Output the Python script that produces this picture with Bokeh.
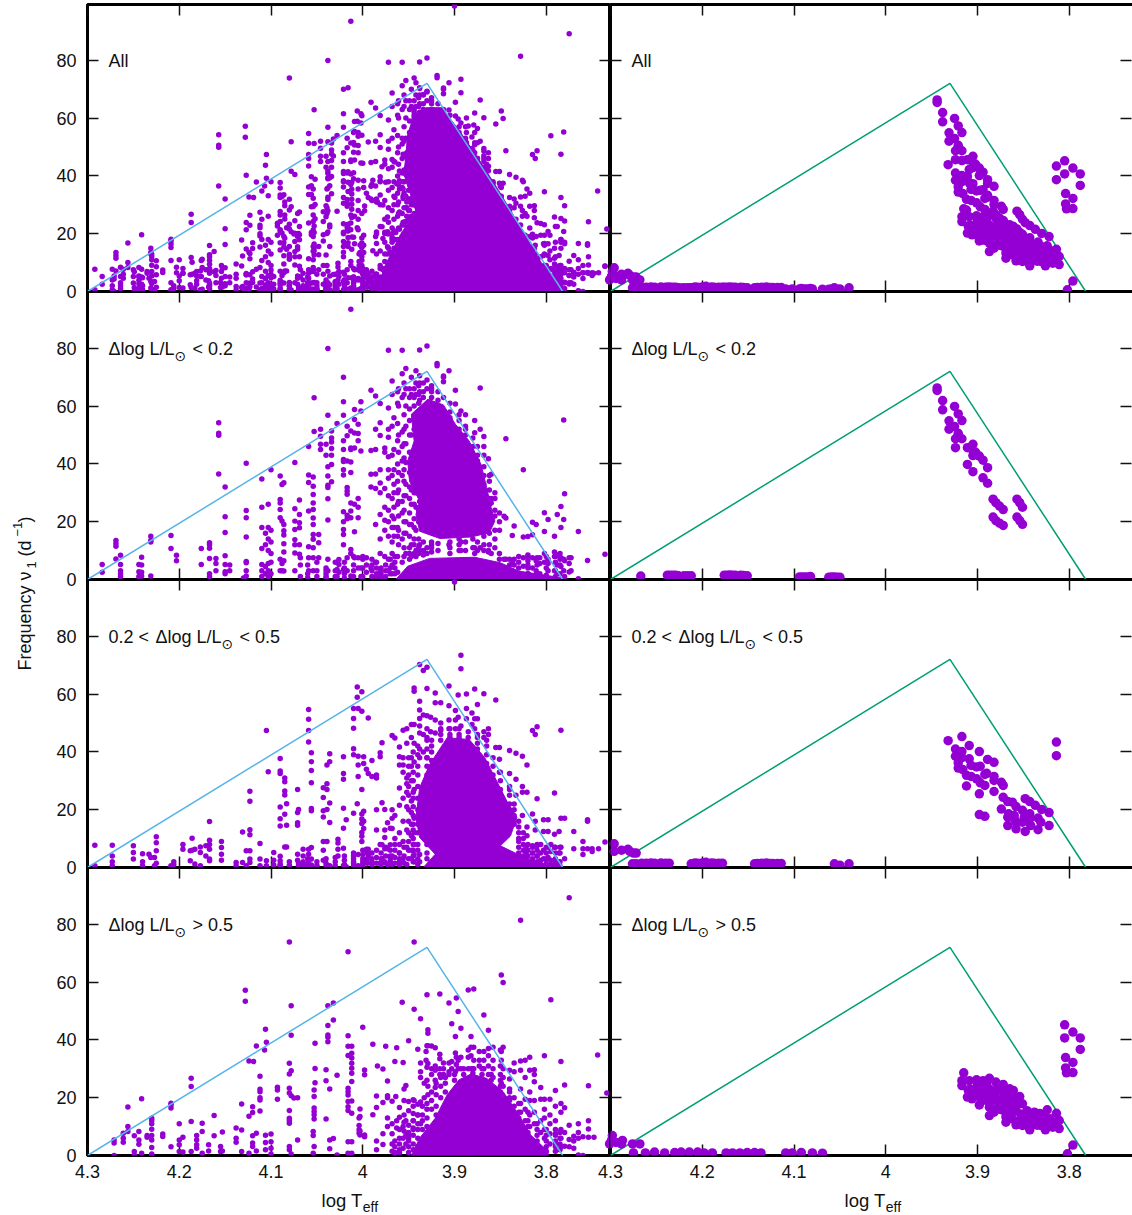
from math import pi
from bokeh.plotting import figure
from bokeh.layouts import row, column
from bokeh.core.properties import value
from bokeh.models import LinearAxis, FixedTicker, Label, Range1d
from bokeh.embed import file_html
from bokeh.resources import INLINE

X_TICKS = [4.3, 4.2, 4.1, 4.0, 3.9, 3.8]
X_TICK_LABELS = ["4.3", "4.2", "4.1", "4", "3.9", "3.8"]
Y_TICKS = [0, 20, 40, 60, 80]
IS_T = [4.3, 3.93, 3.782]
IS_NU = [0, 72, 0]
PURPLE = "#9400D3"

# --- left column: dense saturated clouds, as read outlines (log Teff, frequency)
low_core_T = [3.929,3.912,3.899,3.884,3.871,3.865,3.860,3.856,3.862,3.882,3.916,3.938,3.942,3.938,3.949,3.951,3.944,3.947]
low_core_nu = [62.4,60.4,53.7,47.9,39.8,31.8,24.8,20.2,16.2,14.7,14.2,16.7,22.5,27.1,34,41,47.9,57.2]
low_band_T = [3.964,3.951,3.927,3.878,3.850,3.830,3.783,3.783]
low_band_nu = [0,4.6,7.3,7.7,5.8,2.9,0.6,0]
mid_core_T = [3.908,3.884,3.867,3.854,3.843,3.832,3.839,3.850,3.824,3.796,3.796,3.934,3.921,3.938,3.942,3.938,3.927]
mid_core_nu = [44.9,44.3,38,29.9,23,17.3,10.9,7.5,3.5,0.6,0,0,4.6,10.4,17.3,27.6,35.7]
high_core_T = [3.882,3.865,3.847,3.830,3.817,3.798,3.798,3.947,3.938,3.921,3.908,3.895]
high_core_nu = [28.2,26.7,22.1,14.1,7.1,1.4,0,0,6,12.9,21,26.2]
all_core_T = [3.931,3.914,3.895,3.875,3.852,3.834,3.817,3.804,3.783,3.783,3.983,3.977,3.959,3.942,3.955,3.951,3.944]
all_core_nu = [63.6,63.6,55.8,46.5,35,25.4,16.2,9.2,0.6,0,0,8,19.7,27.7,40.5,54.3,61.3]

# --- left column: individual stars, grouped by log Teff: (log Teff, [frequencies])
low_cols = [
(4.284,[5.2,2.5]),(4.269,[13.5,12.5,11.5,7.1]),(4.264,[8.4,5.2,3,2,1]),(4.244,[5.2,2.7,1]),(4.241,[7.7,5,2.5,1.2]),
(4.231,[15,13.5,13,1.2]),(4.209,[15.2,10.7]),(4.203,[8.4,6.5]),(4.176,[10.7,5.2]),(4.167,[12.7,12,10.8,7.3,2,1]),
(4.160,[7.3,5.5,3]),(4.157,[54.2,50.6,49.9,36.5]),(4.150,[32,21.7,16.3,8.2,5.2,2.7,2]),(4.145,[5,3]),
(4.127,[40.2,23.9,21.4,14.7,6.2,5.8,3,1.2]),(4.110,[34.8,25,18,10.7,5.2,3,1]),(4.103,[26,18,14,10,5.5,3,1]),
(4.100,[38,17,13,9,6,2]),(4.106,[16,12,4.5,2]),(4.090,[35.8,27.7,26.5,24.2,21.4,7,3]),(4.088,[32.9,20.2,5.5,3]),
(4.086,[33.5,19,16.9,15.4,12.4,9.5,6.5,2.9]),(4.074,[40.5,24.5,20.2,17.3,13.8,12,9.2,3]),(4.068,[7.5,5,1]),
(4.069,[27.5,22.5,19.6,17.9,12,8.7]),(4.059,[46,36.2,33.6,23.7,11.3,7.5,3]),(4.054,[35.5,32.3,29.4,26.5,24.2,21.3,19,15.6,13.9,11,7.5,3]),
(4.053,[62.9,51.2]),(4.048,[15.6,12.7,7.5]),(4.046,[52,49.6,46.8,45]),(4.040,[46.8,43,3,1]),(4.034,[51.4,49,47.6,45.3,43,39.8,33.8]),
(4.038,[79.9,56.8,39,35.8,32.6,31.8,27.9,20.6,7,3]),(4.026,[6.9,5.2,2.5]),(4.021,[70,61.5,56.8,48,45,41.5,40.8,38,36.2,23.4,20,17.3,15.6,12,3.5]),
(4.028,[54,3.5,1]),(4.017,[53,49.7,41,31.8,30.6,29.5,22.2,21,7.5,3]),(4.013,[51.4,45.5,45,40.7,37,26.5,23.7,21.4,10.4,9,1.2]),
(4.009,[58.8,55.4,50.7,45.5,26,16.5,7.5]),(4.005,[53.7,50.5,48,28,25,21.4,7.5,4]),(4.002,[61.5,58.3,44.5,4,1]),(3.996,[7.5,5,2.5]),
(3.991,[65.5,44.6,36.4,32,4]),(3.986,[63.5,52,45,36.5,31.5,19,6]),(3.981,[60.9,54.2,49.8,38,33.4,30,22.5,14,9,3]),(3.976,[45.5,44,31.5,25,20.5,17,8]),
(3.972,[79.3,59.3,52,49.2,42.5,38,35,29,24,20,15,7,3]),(3.968,[68.7,64,53,43,36,28,22,18,13,9,5,2]),
(3.962,[65,61,54,48,40,34,30,26,18,15,8,2.5]),(3.957,[79.3,71.2,63,51,46,41,36,27,23,14,6,1]),(3.953,[73,66,60,53,47,40.5,33,29,20,16,9]),
(3.947,[70,64,50,44,36,31,26,19,12,8]),(3.942,[72.2,68,64,45,30,25,17,10,8]),(3.938,[79.4,70.5,68,65,62,30,27,12,10]),(3.930,[80.8,69,66,28,11,9]),
(3.925,[67,65,12]),(3.919,[74.7,74]),(3.912,[70.4,70,68.4,63]),(3.906,[72.2,12]),(3.899,[65.5,60.7]),(3.893,[58.3,13,10]),(3.888,[53,57]),
(3.878,[50.8,55,11,9]),(3.872,[66.3,52,11]),(3.868,[49.5,46,43,10]),(3.863,[41.8,9.5,10]),(3.860,[36.4,28,26.5,9]),(3.846,[21.9,7,4]),(3.844,[48.7,21.3,7]),
(3.835,[18.5,7,5]),(3.837,[15.2,5.5,3]),(3.825,[38,14.7,7.5,4.6]),(3.820,[14.9,8,5,2]),(3.815,[15.5,19.8,7.5,4]),(3.811,[19,6.5,3]),(3.807,[7.5,5.5,2]),
(3.802,[23.1,16.6,9,6]),(3.798,[20.8,7,5.5,3]),(3.791,[15,9.5,8,3]),(3.788,[22.5,8.5,5,2]),(3.784,[25.3,18,7.5,4.5]),(3.781,[55.2,20.8,7,3]),
(3.780,[29.7,6.5,1]),(3.775,[7.5,5.5,2.6]),(3.773,[7.5,3]),(3.765,[16.6,.3]),(3.755,[6.6]),(3.736,[8.7]),(4.013,[93.5]),
# stars crowding the edges of the saturated clouds
(3.966,[56,45,38,33,30,25,21,18,15]),(3.961,[66,60,50,44,37,31,27,22,17,12]),(3.955,[68,64,57,52,47,42,38,34,29,24,20,16,11,8]),
(3.949,[66,63,59,55,50,44,37,32,28,23,19,15,11,9,7]),(3.944,[66,63,60,56,52,38,30,26,21,18,14,12,9]),(3.939,[67,64,61,36,31,24,20,14,11,9]),
(3.934,[68,65,63,30,28,13,10,8.5]),(3.925,[66,63,13,11,9.5]),(3.918,[65,62,12.5,10]),(3.905,[61,58,56,13,11,9]),(3.895,[57,55,52,49,14,12,10]),
(3.888,[52,50,48,45,13,10]),(3.880,[49,46,43,40,14,11]),(3.875,[46,43,41,38,35,13,10]),(3.868,[39,36,33,30,27,15,12]),(3.862,[36,34,31,28,26,22,19,16,12]),
(3.856,[30,28,24,22,17,14,11]),(3.851,[23,20,17,9,7]),(3.84,[7,5,3,1.5]),(3.83,[8,6,4,2]),(3.82,[8.5,6.5,4,2]),(3.81,[7.5,5,2]),(3.80,[8,6,4,1.5]),(3.79,[8,6,3,1]),(3.785,[9,7,5,2]),
(4.13,[.5]),(3.99,[7,5,3,1]),(3.985,[6,4,2,1]),(3.975,[5,3,1]),(3.97,[7,4,2]),(3.965,[8,6,4,2]),(3.98,[4,2,.8]),(4.0,[8,7,4,1]),(4.01,[8,5,3,1]),(4.02,[6,4,2,.5]),(4.03,[6,3,1]),(4.04,[4,2,.5]),(4.05,[6,3,1]),(4.06,[5,2,.6]),
]
mid_cols = [
(3.9,[98.8]),
(4.292,[7.7,.6]),(4.273,[7.7,4,2,.6]),(4.250,[7.5,5.2,2.9]),(4.240,[4.8,2,.6]),(4.233,[4.6]),(4.231,[3.5]),(4.227,[3.5,.6]),(4.225,[10.6,8.6,5.8,1.5]),
(4.209,[.6,.3]),(4.206,[2,1]),(4.196,[8,6.3]),(4.188,[5.8,2.3]),(4.186,[10.1,6]),(4.183,[6.3,1.2]),(4.177,[7.1,5.2,.6]),(4.171,[7.5,4]),(4.167,[15.9,9.4,8,6.3,2.9,2.3]),
(4.154,[9,6.9,4.6,2.5]),(4.138,[1.7,.6]),(4.131,[12.3,1.7]),(4.127,[.6,5.8]),(4.123,[26.4,22.9,13.1,11.3,5.8,2.9,1.7]),(4.112,[8.3,2.9,.6]),
(4.105,[47.4,2.3,.6]),(4.103,[33.1]),(4.097,[5.2,2.5,.9]),(4.090,[37.7,33.4,32.5,20.9,16.9,14.4,3.9,2.3,.6]),(4.085,[31,29.7,26.5,25.1,18.4,7.1]),(4.083,[22.1,14.6,7.1]),
(4.071,[27,19,15.5,14.6,4.6,2.5]),(4.070,[20.1,.6]),(4.065,[6.3,4,2,.6]),(4.059,[54.7,51.3,47.4,43.4,6.3,4.6,2.3]),(4.056,[39.7,36.6,33.6,29.3,20.4,19.6,6.9,2.9,.9]),
(4.043,[27.6,24.2,19.6,17.5,9,6,2.5]),(4.039,[29,27,20.1,35.5,9,.6]),(4.036,[22.3,15.6,36.6,39.4,.6]),(4.027,[9.8,8.5,6.3,4]),
(4.021,[38.3,32.5,30.5,20.5,13.6,6.7,.6]),(4.018,[16.5,.3]),(4.006,[62.5,58.9,22.1]),(4.001,[60.8,54.1,27,18.5,16.8,15.2,12.1,10.8,9]),
(4.010,[55,51.6,48.2,41.1,39,18.8,5,2]),(4.005,[55,38.5,35.5,31.5,4.5,.6]),(3.999,[38.3,36,19.5,16,13.5]),(3.996,[34,2.5,6.3]),(3.994,[51.7,32.5,6.3,4]),
(3.990,[31.5,37,3]),(3.985,[31,32,20,13]),(3.981,[39.7,38.3,8,1.5]),(3.979,[43.2,22.4,7.9,3]),(3.976,[20.1,13,10.4,6.5,2]),(3.973,[15.5,6.5,1]),(3.970,[13.6,7.9,3]),
(3.968,[45.7,17,20,13.5,4,1]),(3.965,[44.8,18,10,6]),(3.960,[41.7,38.3,35.5,27.5,21.5,12,5,2]),(3.956,[47.5,38,35.5,33,24,16,9,3]),(3.952,[48,43,31,29,26,21,13,7,1]),
(3.947,[49.5,45,38,35,30,23,19,15,11,6,3]),(3.944,[62.1,61,49.5,43,36.5,27,17,12,8,4.5,2]),(3.938,[70.2,57.5,54.5,51.6,49,46.5,41,38,4.5,2]),
(3.934,[68.2,52.8,46,40]),(3.930,[69.3,61.9,52.5,48,45,38]),(3.926,[52,47]),(3.921,[60.4,57,51,46.5]),(3.915,[57,50,47.5]),(3.906,[62.8,56,51,48]),
(3.899,[54.3,51,48]),(3.896,[59.7,52]),(3.893,[68.8,73.4,49]),(3.887,[60,55,51.5]),(3.881,[53.5,49.5]),(3.878,[61.8,51.5,48]),(3.875,[56.4,51.5,46]),(3.868,[60.1,47,45]),
(3.863,[48,46]),(3.855,[58,41.5]),(3.851,[41.5,37.5,33]),(3.840,[40.5,32.5,27]),(3.833,[39.5,30.5,25]),(3.826,[38.5,28,26,18]),(3.821,[35.5,26,14,11]),(3.815,[47.4,18.5,7.5,5]),
(3.812,[46,16,13]),(3.810,[48.7,23.8,7.5,4]),(3.803,[16.5,12.5,6,3]),(3.798,[16.5,12.5,7,3.5]),(3.791,[25.8,11.5,7]),(3.786,[12.5,5,2]),(3.784,[47.5,17,7]),
(3.780,[17,3]),(3.770,[12.5,6.5]),(3.760,[9,6.5,4.5]),(3.755,[16.5,16,6.5]),(3.750,[6.5,5.5]),(3.743,[6.5]),(3.736,[8.8]),
# stars crowding the edges of the saturated cloud
(3.945,[40,33,30,26,24,21,18,15,13,10,8,6,4,2]),(3.95,[38,35,32,28,25,20,16,12,9,6,3]),(3.94,[42,39,35,32,28,24,20,15,12,8,6,3,1]),(3.93,[44,41,38,35,32,8,5,3]),
(3.925,[44,42,40,37]),(3.915,[48,46,44]),(3.905,[48,46,45]),(3.895,[48,46,45]),(3.885,[47,45]),(3.875,[45,43,41]),(3.865,[44,42,39,36]),(3.858,[38,35,32,30]),
(3.85,[33,30,27,25]),(3.84,[28,25,22,20]),(3.835,[22,20,18,15]),(3.83,[16,14,12,10]),(3.825,[12,10,8,6,4]),(3.82,[8,6,4,2]),(3.81,[8,6,4,2,1]),(3.80,[7,5,3,1.5]),
(3.79,[7,5,3,.7]),(3.785,[7,5,2,.5]),(3.96,[8,5,3,1]),(3.97,[6,4,2]),(3.98,[5,3,1]),(3.99,[5,2,1]),(4.0,[6,3,.8]),
# low-frequency crowd along the axis
(4.09,[1.2,.5]),(4.08,[2,.8]),(4.07,[1.5,.5]),(4.06,[3,1.2,.5]),(4.05,[2,.8]),(4.04,[3,1.5,.5]),(4.03,[3.5,2,.8]),(4.02,[4,2.5,1]),(4.01,[4,3,1.5,.5]),(4.0,[4.5,2,1]),
(3.995,[5,3,1.5]),(3.985,[6,3.5,1.5]),(3.975,[7,4,1.5]),(3.965,[8,3.5,1.5]),(3.955,[7,4,1.5]),
(3.83,[9,7,5,3]),(3.822,[7,5,3,1.5]),(3.815,[7,5,3,1]),(3.806,[8,5,2.5,1]),(3.795,[8,5.5,2.5,1]),(3.79,[2,1]),
]
high_cols = [
(4.271,[5.4,4.3,0]),(4.261,[7.7,6,4.6]),(4.256,[16.8,10,8.3]),(4.249,[6.8,1.4,.2]),(4.244,[8.3,5.4,3.9]),(4.241,[19.6,.8]),(4.235,[6.9,6.3]),(4.230,[12.9,12.1,11,9.1,6.9,5.4,2.8,.2,.5]),
(4.218,[7.4,6.6]),(4.209,[18.1,17.5,16.4,3]),(4.200,[11,5.4,3.7,1.4]),(4.196,[6.3,1.2]),(4.187,[26.7,23.9,11.8,1.4]),(4.181,[6.9,5.4,3.7,2.5]),(4.175,[11.2,8.3,.8]),
(4.168,[3.7,1.6]),(4.162,[13.8,6.8]),(4.155,[3.1,1.4]),(4.153,[8.1,1.6]),(4.138,[9.5,6,4.6]),(4.132,[17.8,8.8,1.4]),(4.128,[57.2,53.4]),(4.124,[32.7,13.6,.8]),(4.120,[16.9,14.9,6.8,4.3,3.1]),
(4.119,[32.5]),(4.116,[37.9,7.7,1.6]),(4.112,[27.4,22.9,22.1,20,19.2,15.4]),(4.106,[43.7,7,4.5,2]),(4.105,[39.2]),(4.107,[36.5]),(4.100,[7.4,4.8,2.5,.5]),(4.093,[23.6,22.7,19.5]),
(4.080,[73.9,31.9,28.2,23.3,21.6,15.6,12.9,12,11.2,3.1,2]),(4.078,[51.8,41.6,29.3,20.7,.5]),(4.075,[19.9]),(4.071,[20,5.4]),(4.054,[8.3,6.9,.8]),(4.053,[22.7,20.4,16.4,15.2,14.1,12.6,3.1]),
(4.052,[38.8,30.1,25.2]),(4.040,[29.7,25.9,12.6]),(4.036,[23,5.4,2.3]),(4.032,[52.8,46.9,5.9]),(4.038,[51.8,45,41.7,40.9,39.4]),(4.028,[27.8,.2]),(4.016,[70.5,41.4,37.8,34.6,23.3,22.1,20.9,18.7,16.9,15.6,4.8,.8]),
(4.012,[35.4,33.7,31.9,30.2,28.5,25.6,37.8,18.9,14.6,4.8,.8]),(4.000,[44.4]),(3.998,[29.6,27.9,7.1,6.5]),(4.003,[16.1,13.5,7.1,8.5]),(4.004,[13,10.4,8.9,7.8]),
(3.989,[38.5,14.1]),(3.985,[20.6,16.6,5,2]),(3.984,[31]),(3.978,[29.9,18.3,7.5,3.8]),(3.975,[37.8]),(3.973,[25.8,20.7,20,13,10]),(3.968,[18.8,11,7.5,4,1.5]),(3.965,[32.5,5,1]),(3.963,[37.3,9.5,12]),
(3.964,[20.4]),(3.960,[16.6,13.2,9]),(3.956,[32.2,10,6,2.5]),(3.955,[23,19,14,11.5,8.5]),(3.953,[24.2,12,7,4]),(3.950,[39.7,18.7,15.5,10.5,7]),(3.957,[53]),(3.945,[19.3,17,14.5,12,9.5]),
(3.944,[73.9,50.6,19]),(3.940,[36.8,17.7,14]),(3.937,[47.3,32,29,27,18.5,11]),(3.933,[25,20]),(3.931,[36,33]),(3.930,[55.6,38,30.5,26]),(3.929,[43.5,42.3,38,31.8,24,21]),
(3.925,[37.9,30,28]),(3.921,[37.3,31,29.5,26,23.5]),(3.916,[55.9,35,33.5,30,28]),(3.912,[32,30,28]),(3.906,[52.8,32,29,28]),(3.903,[45.6,32.5,30]),(3.898,[54.5,34,31.5]),
(3.899,[41.2,35.5,29]),(3.896,[49.8,33,30]),(3.893,[44,34,30]),(3.885,[57.3,36.5,34,30]),(3.882,[41.2,37.5,34.5,30]),(3.879,[57.6,37.5,33,30]),(3.873,[36,33,31]),(3.868,[48.6,36,33,30]),
(3.863,[43.3,37,34.5,31,28]),(3.858,[37.5,33,30,27]),(3.850,[36.5,31,28]),(3.849,[62.5,36,33,25]),(3.847,[59.9,37.5,30,27,24]),(3.840,[29.5,26.5,23,20]),(3.835,[32,29,20,17,14]),(3.828,[81.4,32.7,29.5,23,18,15]),
(3.823,[33,27,19.5,16,12]),(3.818,[34,29.5,22,19,14,10]),(3.813,[29.7,28,25.5,19,15,11]),(3.806,[23.5,19.5,12,8]),(3.802,[34.5,19.5,16,13,9,6]),(3.796,[19.5,14,11,7.5,4]),(3.795,[53.9]),(3.790,[22.5,17,12,7.5,4]),
(3.784,[32.5,18,15,9,6,3]),(3.780,[24.4,16.5,8,3.2]),(3.775,[89.2,10.5,5.5,3]),(3.770,[6.7,5,2.5]),(3.765,[11,8,6,.2]),(3.760,[6.5,0]),(3.754,[24.1,12,9.2,6.3]),(3.748,[6.3]),(3.744,[34.8]),(3.734,[21.6]),
# stars crowding the edges of the saturated cloud
(3.95,[5,3,1,6,8]),(3.96,[6,4,2,1]),(3.965,[3,.8]),(3.945,[12,9,7,4,2]),(3.94,[14,11,9,6,3]),(3.935,[17,14,12,9]),(3.93,[18,16,13,10]),(3.925,[22,19,16]),(3.92,[25,21,17,14]),(3.915,[27,24,20]),
(3.91,[27,25,22]),(3.90,[28,26]),(3.89,[30,28]),(3.88,[30,28.5]),(3.87,[30,28]),(3.86,[28,26]),(3.85,[26,24,22]),(3.84,[22,19,16]),(3.83,[18,15,13]),(3.82,[15,12,10,8]),(3.81,[11,9,7,5]),
(3.80,[9,7,5,3,1.5]),(3.79,[9,7,5,3,1.5]),(3.785,[8,6,4,2]),
]

# --- right column: the selected stars (log Teff, frequency)
rlow_T = [3.944,3.944,3.938,3.938,3.925,3.921,3.917,3.931,3.925,3.931,3.921,3.917,3.924,3.924,3.911,3.905,3.905,3.902,3.905,3.898,3.894,3.889,3.911,3.905,3.894,3.889,
          3.883,3.880,3.876,3.872,3.857,3.854,3.851,3.883,3.880,3.876,3.872,3.857,3.854,3.851,
          4.267,4.238,4.235,4.232,4.229,4.226,4.220,4.216,4.212,4.176,4.173,4.170,4.167,4.164,4.158,4.155,4.151,4.094,4.091,4.088,4.085,4.082,4.062,4.059,4.056,4.053,4.050]
rlow_nu = [66.3,65.4,61.9,58.7,59.9,57.3,55,54.9,52.9,52,50.6,48.7,48.7,45.6,45.6,46.8,44.6,44,42.9,42.7,41.3,38.7,39.8,37.3,35.2,33.3,
           27.8,26.6,25.4,24.2,27.8,26.6,25,21.6,20.4,19.5,18.7,21.6,20.4,19.1,
           1.2,1.5,1.5,1.5,1.5,1.3,1.3,1.3,1.3,1.5,1.5,1.6,1.5,1.5,1.5,1.4,1.3,.9,.9,.9,.9,1,.8,.9,.9,.8,.8]
rmid_T = [3.932,3.917,3.909,3.924,3.917,3.924,3.917,3.909,3.898,3.889,3.882,3.921,3.921,3.916,3.907,3.901,3.897,3.912,3.907,3.901,3.897,3.892,3.890,3.892,3.882,3.882,3.874,3.872,3.912,3.898,3.882,3.872,3.867,3.862,3.858,3.874,
          3.848,3.843,3.837,3.830,3.822,3.851,3.843,3.866,3.867,3.860,3.860,3.858,3.849,3.851,3.843,3.834,3.831,3.842,3.822,3.867,3.858,3.848,3.834,3.898,3.892,3.814,3.814,
          4.296,4.296,4.288,4.281,4.279,4.272,4.275,4.276,4.272,4.266,4.261,4.256,4.252,4.245,4.24,4.236,4.212,4.208,4.205,4.2,4.196,4.19,4.187,4.182,4.178,4.143,4.14,4.138,4.135,4.130,4.126,4.123,4.118,4.114,4.056,4.050,4.040]
rmid_nu = [43.9,45.3,42.2,41,40.1,38.5,38,37.6,40.1,37.4,36.4,36.2,34.4,33.9,35.3,34.8,35,31.9,31.5,30.7,29.3,28.4,32.6,32.2,31.5,30.1,29.5,28.4,28.2,25.5,26.3,24.3,22.8,22.6,21.1,20.2,
           23.8,22.8,21.5,20.1,19,19.8,18.6,18.6,17.4,18,16.9,15.7,17.4,15.7,16.9,17.1,15.7,14.5,14.5,14.5,13.4,12.5,13.1,18.3,17.7,43.4,38.7,
           8.2,5.6,6,6.3,5.6,5,5,1.3,1.3,1.5,1.5,1.6,1.5,1.6,1.5,1.5,1.3,1.6,1.5,1.6,1.8,1.6,1.5,1.5,1.5,1.3,1.4,1.3,1.5,1.6,1.4,1.4,1.4,1.4,1.3,.8,1.3]
rhigh_T = [3.805,3.796,3.805,3.788,3.788,3.804,3.796,3.804,3.803,3.796,3.796,3.802,
           3.915,3.917,3.917,3.909,3.901,3.894,3.887,3.880,3.872,3.865,3.861,3.854,3.851,3.911,3.906,3.898,3.908,3.901,3.894,3.887,3.880,3.872,3.901,3.894,3.887,3.880,3.872,3.865,3.858,
           3.887,3.887,3.880,3.872,3.865,3.858,3.853,3.869,3.869,3.862,3.858,3.851,3.844,3.843,3.838,3.844,3.836,3.831,3.824,3.831,3.826,3.818,3.811,3.814,3.811,3.821,3.851,
           3.90,3.895,3.89,3.885,3.875,3.868,3.86,3.856,3.862,3.87,3.876,3.884,3.89,3.896,3.904,3.91,3.862,3.848,3.84,3.835,3.828,3.822,3.816,3.842,3.855,3.865,3.876,3.882,3.846,3.84,3.832,3.826,
           4.299,4.298,4.301,4.294,4.287,4.288,4.276,4.268,4.275,4.262,4.252,4.241,4.230,4.223,4.214,4.205,4.198,4.189,4.174,4.167,4.159,4.151,4.143,4.136,4.109,4.102,4.092,4.080,4.069]
rhigh_nu = [45.2,42.7,40.7,40.7,36.7,33.9,32.2,30.3,28.6,28.7,3.6,.6,
            28.6,25.9,24.2,25.9,26.2,25.9,26.7,25.4,24.6,23.1,22.5,20.4,17.9,20.2,19.6,17.5,23,23,23,23,22.5,21.9,20.8,20.8,20.8,20,19.6,19.6,19,
            16.7,13.8,16.1,15.6,15.6,15.6,14.4,13.3,11.5,12.7,10.6,12.1,9.8,8.9,15,13.3,12.7,13.3,15.8,10.4,8.9,9.8,9.3,14.6,12.1,12.7,10.4,
            24.5,24,25,22,23,22,20.5,18,18,17.5,18,19,19,19,22,22.5,15,13,12,10.5,11.5,10.5,11.5,11,12,13,16,15,15.5,14,14.5,13,
            5.2,6.9,4,4.5,5.2,4,4,4,.9,.9,1.2,.9,1,1.2,1.2,1.2,.9,.9,.9,.9,.9,1,1,.9,.9,.9,1,.9,.8]

ROW_PREFIX = [None, None, "0.2 <", None]
ROW_LABELS = ["All", "\u0394log L/L", "\u0394log L/L", "\u0394log L/L"]
ROW_SUFFIX = [None, "< 0.2", "< 0.5", "> 0.5"]

def expand(cols):
    xs, ys = [], []
    for x, vals in cols:
        for y in vals:
            xs.append(x); ys.append(y)
    return xs, ys

low_T, low_nu = expand(low_cols)
mid_T, mid_nu = expand(mid_cols)
high_T, high_nu = expand(high_cols)

left_pts = [(low_T+mid_T+high_T, low_nu+mid_nu+high_nu), (low_T, low_nu), (mid_T, mid_nu), (high_T, high_nu)]
right_pts = [(rlow_T+rmid_T+rhigh_T, rlow_nu+rmid_nu+rhigh_nu), (rlow_T, rlow_nu), (rmid_T, rmid_nu), (rhigh_T, rhigh_nu)]
left_hulls = [[(all_core_T, all_core_nu), (low_band_T, low_band_nu)],
              [(low_core_T, low_core_nu), (low_band_T, low_band_nu)],
              [(mid_core_T, mid_core_nu)],
              [(high_core_T, high_core_nu)]]

FONT = "Liberation Sans"
TICK_FS = "18px"
INK = "#111111"
PX_X = 917.5
PX_Y = 2.89
FRAME_H = [287, 288, 288, 288]
LEFT_W = 523
RIGHT_W = 525   # runs just past the window, as the reference's right edge does
STRIP_H = 27
YL_W = 40
LEFT_BORDER = 47

def add_axes(p, r, c, xmax, ymax):
    def style(ax, ticks):
        ax.ticker = FixedTicker(ticks=ticks)
        ax.minor_tick_line_color = None
        ax.axis_line_color = None
        ax.major_tick_in = 11
        ax.major_tick_out = 0
        ax.major_tick_line_color = INK
        ax.major_tick_line_width = 1.5
        ax.major_label_text_font = FONT
        ax.major_label_text_font_size = TICK_FS
        ax.major_label_text_color = INK
        ax.level = "underlay"
    blank_x = {float(t): "" for t in X_TICKS}
    blank_y = {int(t): "" for t in Y_TICKS}

    # tick-only axes, drawn beneath the stars
    b = LinearAxis(); style(b, X_TICKS); b.major_label_overrides = blank_x; b.fixed_location = 0
    p.add_layout(b, "below")
    t = LinearAxis(); style(t, X_TICKS); t.major_label_overrides = blank_x; t.fixed_location = ymax
    p.add_layout(t, "above")
    l = LinearAxis(); style(l, Y_TICKS); l.major_label_overrides = blank_y; l.fixed_location = 4.3
    p.add_layout(l, "left")
    ri = LinearAxis(); style(ri, Y_TICKS); ri.major_label_overrides = blank_y
    ri.fixed_location = xmax if c == 0 else 3.7322
    p.add_layout(ri, "right")

    # label-carrying axes at the outer edges
    if r == 3:
        xl = LinearAxis(); style(xl, X_TICKS)
        xl.level = "guide"
        xl.major_tick_in = 0
        xl.major_tick_line_color = None
        xl.major_label_overrides = {float(v): s for v, s in zip(X_TICKS, X_TICK_LABELS)}
        xl.major_label_standoff = 9
        p.add_layout(xl, "below")
    if c == 0:
        yla = LinearAxis(); style(yla, Y_TICKS)
        yla.level = "guide"
        yla.major_tick_in = 0
        yla.major_tick_line_color = None
        yla.major_label_standoff = 11
        p.add_layout(yla, "left")

def panel(r, c):
    w = LEFT_W if c == 0 else RIGHT_W
    h = FRAME_H[r]
    xmax = 4.3 - w / PX_X
    ymax = h / PX_Y
    mb_top = 4 if r == 0 else 0
    mb_bottom = (60 - STRIP_H) if r == 3 else 9
    mb_left = LEFT_BORDER if c == 0 else (15 if r == 3 else 0)
    p = figure(width=w + mb_left, height=h + mb_top + mb_bottom,
               x_range=Range1d(4.3, xmax), y_range=Range1d(0, ymax),
               x_axis_location=None, y_axis_location=None,
               toolbar_location=None, output_backend="svg",
               min_border_left=mb_left, min_border_right=0, min_border_top=mb_top, min_border_bottom=mb_bottom,
               border_fill_color=None, background_fill_color=None,
               outline_line_color="#000000", outline_line_width=3)
    p.grid.visible = False
    add_axes(p, r, c, xmax, ymax)
    if c == 0:
        for hx, hy in left_hulls[r]:
            p.patch(hx, hy, fill_color=PURPLE, line_color=PURPLE, line_width=1)
        xs, ys = left_pts[r]
        p.scatter(xs, ys, size=5.5, color=PURPLE, line_color=None)
        # stars of the neighbouring right panel that overlap the shared border
        sx = [x - (4.3 - xmax) for x in right_pts[r][0] if x > 4.285]
        sy = [y for x, y in zip(*right_pts[r]) if x > 4.285]
        p.scatter(sx, sy, size=9.5, color=PURPLE, line_color=None)
        p.line(IS_T, IS_NU, line_color="#56B4E9", line_width=1.5)
    else:
        xs, ys = right_pts[r]
        p.line(IS_T, IS_NU, line_color="#009E73", line_width=1.5)
        p.scatter(xs, ys, size=9.5, color=PURPLE, line_color=None)
    # text inside the panel
    lab = dict(x=4.3, y=79.7, text_font=FONT, text_font_size="18px", text_color=INK, text_baseline="middle")
    start = 21
    if ROW_PREFIX[r]:
        p.add_layout(Label(text=ROW_PREFIX[r], x_offset=21, **lab))
        start = 68
    p.add_layout(Label(text=ROW_LABELS[r], x_offset=start, **lab))
    if ROW_SUFFIX[r]:
        p.add_layout(Label(x=4.3, y=79.7, text="\u2299", x_offset=start + 66, y_offset=-7,
                           text_font="DejaVu Sans", text_font_size="14px", text_color=INK, text_baseline="middle"))
        p.add_layout(Label(text=ROW_SUFFIX[r], x_offset=start + 84, **lab))
    if r < 3:
        p.margin = (0, 0, -9, 0)
    elif c == 1:
        p.margin = (0, 0, 0, -15)
    return p

def strip(c):
    w = LEFT_W if c == 0 else RIGHT_W
    border = LEFT_BORDER if c == 0 else 0
    s = figure(width=w + border, height=STRIP_H, x_range=Range1d(4.3, 4.3 - w / PX_X), y_range=Range1d(0, STRIP_H),
               x_axis_location=None, y_axis_location=None, toolbar_location=None, output_backend="svg",
               min_border_left=border, min_border_right=0, min_border_top=0, min_border_bottom=0,
               outline_line_color=None, border_fill_color=None, background_fill_color=None)
    s.grid.visible = False
    s.text([4.0], [15], text=["log T"], text_align="right", text_baseline="middle",
           text_font=value(FONT), text_font_size="18.5px", text_color=INK)
    s.text([4.0], [9], text=["eff"], text_align="left", text_baseline="middle",
           text_font=value(FONT), text_font_size="14px", text_color=INK)
    return s

# separate strip holding the rotated y-axis title
yl = figure(width=YL_W, height=1215, x_range=Range1d(0, YL_W), y_range=Range1d(0, 1215),
            x_axis_location=None, y_axis_location=None, toolbar_location=None, output_backend="svg",
            min_border=0, outline_line_color=None, border_fill_color=None, background_fill_color=None)
yl.grid.visible = False
def ytext(t, x, y, fs):
    yl.text([x], [1215 - y], text=[t], angle=pi / 2, text_font=value(FONT), text_font_size=fs,
            text_color=INK, text_baseline="middle", text_align="left")
ytext("Frequency \u03bd", 24, 670, "18px")
ytext("1", 31, 568, "13px")
ytext("(d", 24, 556, "18px")
ytext("\u22121", 17, 536, "13px")
ytext(")", 24, 522, "18px")

rows = [row(panel(r, 0), panel(r, 1), spacing=0) for r in range(4)]
rows.append(row(strip(0), strip(1), spacing=0))
grid = column(*rows, spacing=0)
root = row(yl, grid, spacing=0, width=1132, height=1215, styles={"overflow": "hidden"})

open("out.html", "w").write(file_html(root, INLINE))
